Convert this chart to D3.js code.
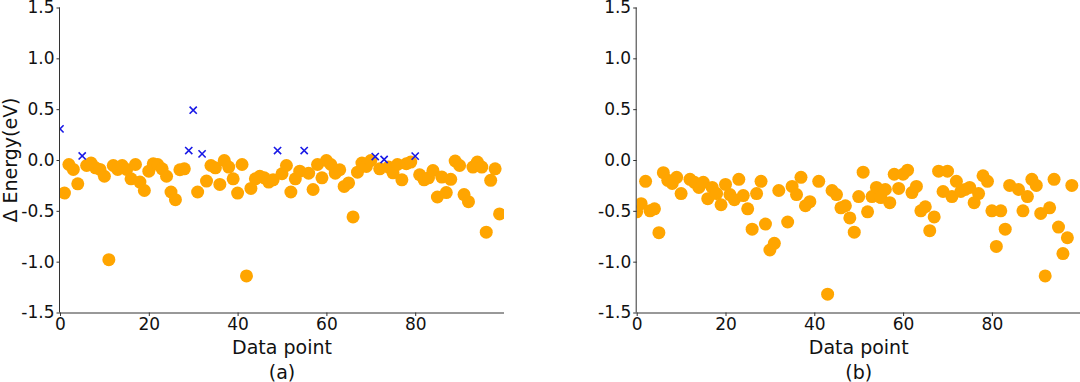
<!DOCTYPE html>
<html>
<head>
<meta charset="utf-8">
<script src="https://cdn.jsdelivr.net/npm/d3@7"></script>
<style>
  html, body { margin: 0; padding: 0; background: #fff; }
  svg { display: block; font-family: "DejaVu Sans", sans-serif; }
</style>
</head>
<body>
<svg id="chart" width="1080" height="382"></svg>
<script>
// ---- data ----
const xTicks = [0, 20, 40, 60, 80];
const yTicks = [1.5, 1.0, 0.5, 0.0, -0.5, -1.0, -1.5];
const yTickLabels = ["1.5", "1.0", "0.5", "0.0", "-0.5", "-1.0", "-1.5"];
const panelLabels = ["(a)", "(b)"];

// panel (a): orange values by data point index (null where a cross is drawn instead)
const energyA = [
  null, -0.325, -0.044, -0.093, -0.234, null, -0.054, -0.03, -0.077, -0.093,
  -0.16, -0.98, -0.054, -0.093, -0.054, -0.093, -0.185, -0.044, -0.217, -0.30,
  -0.11, -0.037, -0.044, -0.087, -0.16, -0.315, -0.39, -0.096, -0.087, null,
  null, -0.315, null, -0.207, -0.054, -0.077, -0.24, -0.005, -0.07, -0.185,
  -0.325, -0.044, -1.14, -0.28, -0.185, -0.16, -0.175, -0.217, -0.195, null,
  -0.135, -0.054, -0.315, -0.185, -0.11, null, -0.13, -0.29, -0.044, -0.175,
  -0.005, -0.044, -0.13, -0.096, -0.26, -0.225, -0.56, -0.12, -0.03, -0.064,
  -0.005, null, -0.087, null, -0.07, -0.126, -0.044, -0.195, -0.037, -0.02,
  null, -0.145, -0.195, -0.175, -0.103, -0.364, -0.168, -0.32, -0.19, -0.01,
  -0.054, -0.34, -0.41, -0.07, -0.02, -0.07, -0.71, -0.2, -0.087, -0.53
];
// panel (a): blue crosses
const crossIdxA = [0, 5, 29, 30, 32, 49, 55, 71, 73, 80];
const crossValA = [0.306, 0.04, 0.093, 0.49, 0.06, 0.093, 0.093, 0.034, 0.005, 0.038];

// panel (b): orange values by data point index
const energyB = [
  -0.51, -0.43, -0.21, -0.50, -0.48, -0.715, -0.125, -0.20, -0.23, -0.17,
  -0.33, null, -0.19, -0.22, -0.27, -0.22, -0.38, -0.27, -0.33, -0.44,
  -0.24, -0.34, -0.39, -0.19, -0.35, -0.48, -0.68, -0.33, -0.21, -0.63,
  -0.885, -0.82, -0.30, null, -0.61, -0.26, -0.34, -0.17, -0.45, -0.41,
  null, -0.21, null, -1.32, -0.30, -0.34, -0.47, -0.45, -0.57, -0.71,
  -0.36, -0.12, -0.51, -0.36, -0.27, -0.37, -0.29, -0.42, -0.14, -0.28,
  -0.14, -0.10, -0.32, -0.26, -0.50, -0.46, -0.695, -0.56, -0.11, -0.31,
  -0.11, -0.36, -0.21, -0.31, -0.29, -0.27, -0.42, -0.33, -0.155, -0.21,
  -0.50, -0.85, -0.50, -0.68, -0.25, null, -0.29, -0.50, -0.36, -0.19,
  -0.25, -0.525, -1.14, -0.47, -0.19, -0.66, -0.92, -0.765, -0.25, null
];

// ---- drawing ----
const svg = d3.select("#chart");
const plotTop = 7.5, plotBottom = 312.5;
const panels = [
  { left: 60, right: 504, orange: energyA, cx: crossIdxA, cv: crossValA, label: panelLabels[0], showYLabel: true },
  { left: 636.7, right: 1080.7, orange: energyB, cx: [], cv: [], label: panelLabels[1], showYLabel: false }
];

const axisColor = "#333";

panels.forEach((p, pi) => {
  const x = d3.scaleLinear().domain([0, 100]).range([p.left, p.right]);
  const y = d3.scaleLinear().domain([-1.5, 1.5]).range([plotBottom, plotTop]);
  const g = svg.append("g");

  const clipId = "clip" + pi;
  svg.append("clipPath").attr("id", clipId)
    .append("rect").attr("x", p.left).attr("y", plotTop)
    .attr("width", p.right - p.left).attr("height", plotBottom - plotTop);

  const marks = g.append("g").attr("clip-path", `url(#${clipId})`);

  const pts = p.orange.map((v, i) => ({ i, v })).filter(d => d.v !== null);
  marks.selectAll("circle").data(pts).enter().append("circle")
    .attr("cx", d => x(d.i)).attr("cy", d => y(d.v)).attr("r", 6.5)
    .attr("fill", "#FFA500");

  const crosses = p.cx.map((c, k) => ({ i: c, v: p.cv[k] }));
  const s = 3.6;
  crosses.forEach(d => {
    const cx = x(d.i), cy = y(d.v);
    marks.append("path")
      .attr("d", `M${cx - s},${cy - s}L${cx + s},${cy + s}M${cx - s},${cy + s}L${cx + s},${cy - s}`)
      .attr("stroke", "#1a1ae6").attr("stroke-width", 1.6).attr("fill", "none");
  });

  // x axis
  const xAxis = d3.axisBottom(x).tickValues(xTicks).tickSize(3.5).tickPadding(2).tickFormat(d3.format("d"));
  const gx = g.append("g").attr("transform", `translate(0,${plotBottom})`).call(xAxis);
  gx.select(".domain").attr("stroke", axisColor).attr("d", `M${p.left},0.5H${p.right}`);
  gx.selectAll(".tick line").attr("stroke", axisColor);
  gx.selectAll("text").attr("font-size", 17).attr("fill", "#111").attr("font-family", "DejaVu Sans");

  // y axis
  const yAxis = d3.axisLeft(y).tickValues(yTicks).tickSize(3.5).tickPadding(2)
    .tickFormat((d, k) => yTickLabels[k]);
  const gy = g.append("g").attr("transform", `translate(${p.left},0)`).call(yAxis);
  gy.select(".domain").attr("stroke", axisColor).attr("d", `M-0.5,${plotTop}V${plotBottom}`);
  gy.selectAll(".tick line").attr("stroke", axisColor);
  gy.selectAll("text").attr("font-size", 17).attr("fill", "#111").attr("font-family", "DejaVu Sans");

  const mid = (p.left + p.right) / 2;
  g.append("text").attr("x", mid).attr("y", 354).attr("text-anchor", "middle")
    .attr("font-size", 19).attr("fill", "#111").text("Data point");
  g.append("text").attr("x", mid).attr("y", 379).attr("text-anchor", "middle")
    .attr("font-size", 19).attr("fill", "#111").text(p.label);

  if (p.showYLabel) {
    g.append("text").attr("transform", `translate(17,${(plotTop + plotBottom) / 2}) rotate(-90)`)
      .attr("text-anchor", "middle").attr("font-size", 19).attr("fill", "#111")
      .text("Δ Energy(eV)");
  }
});
</script>
</body>
</html>
